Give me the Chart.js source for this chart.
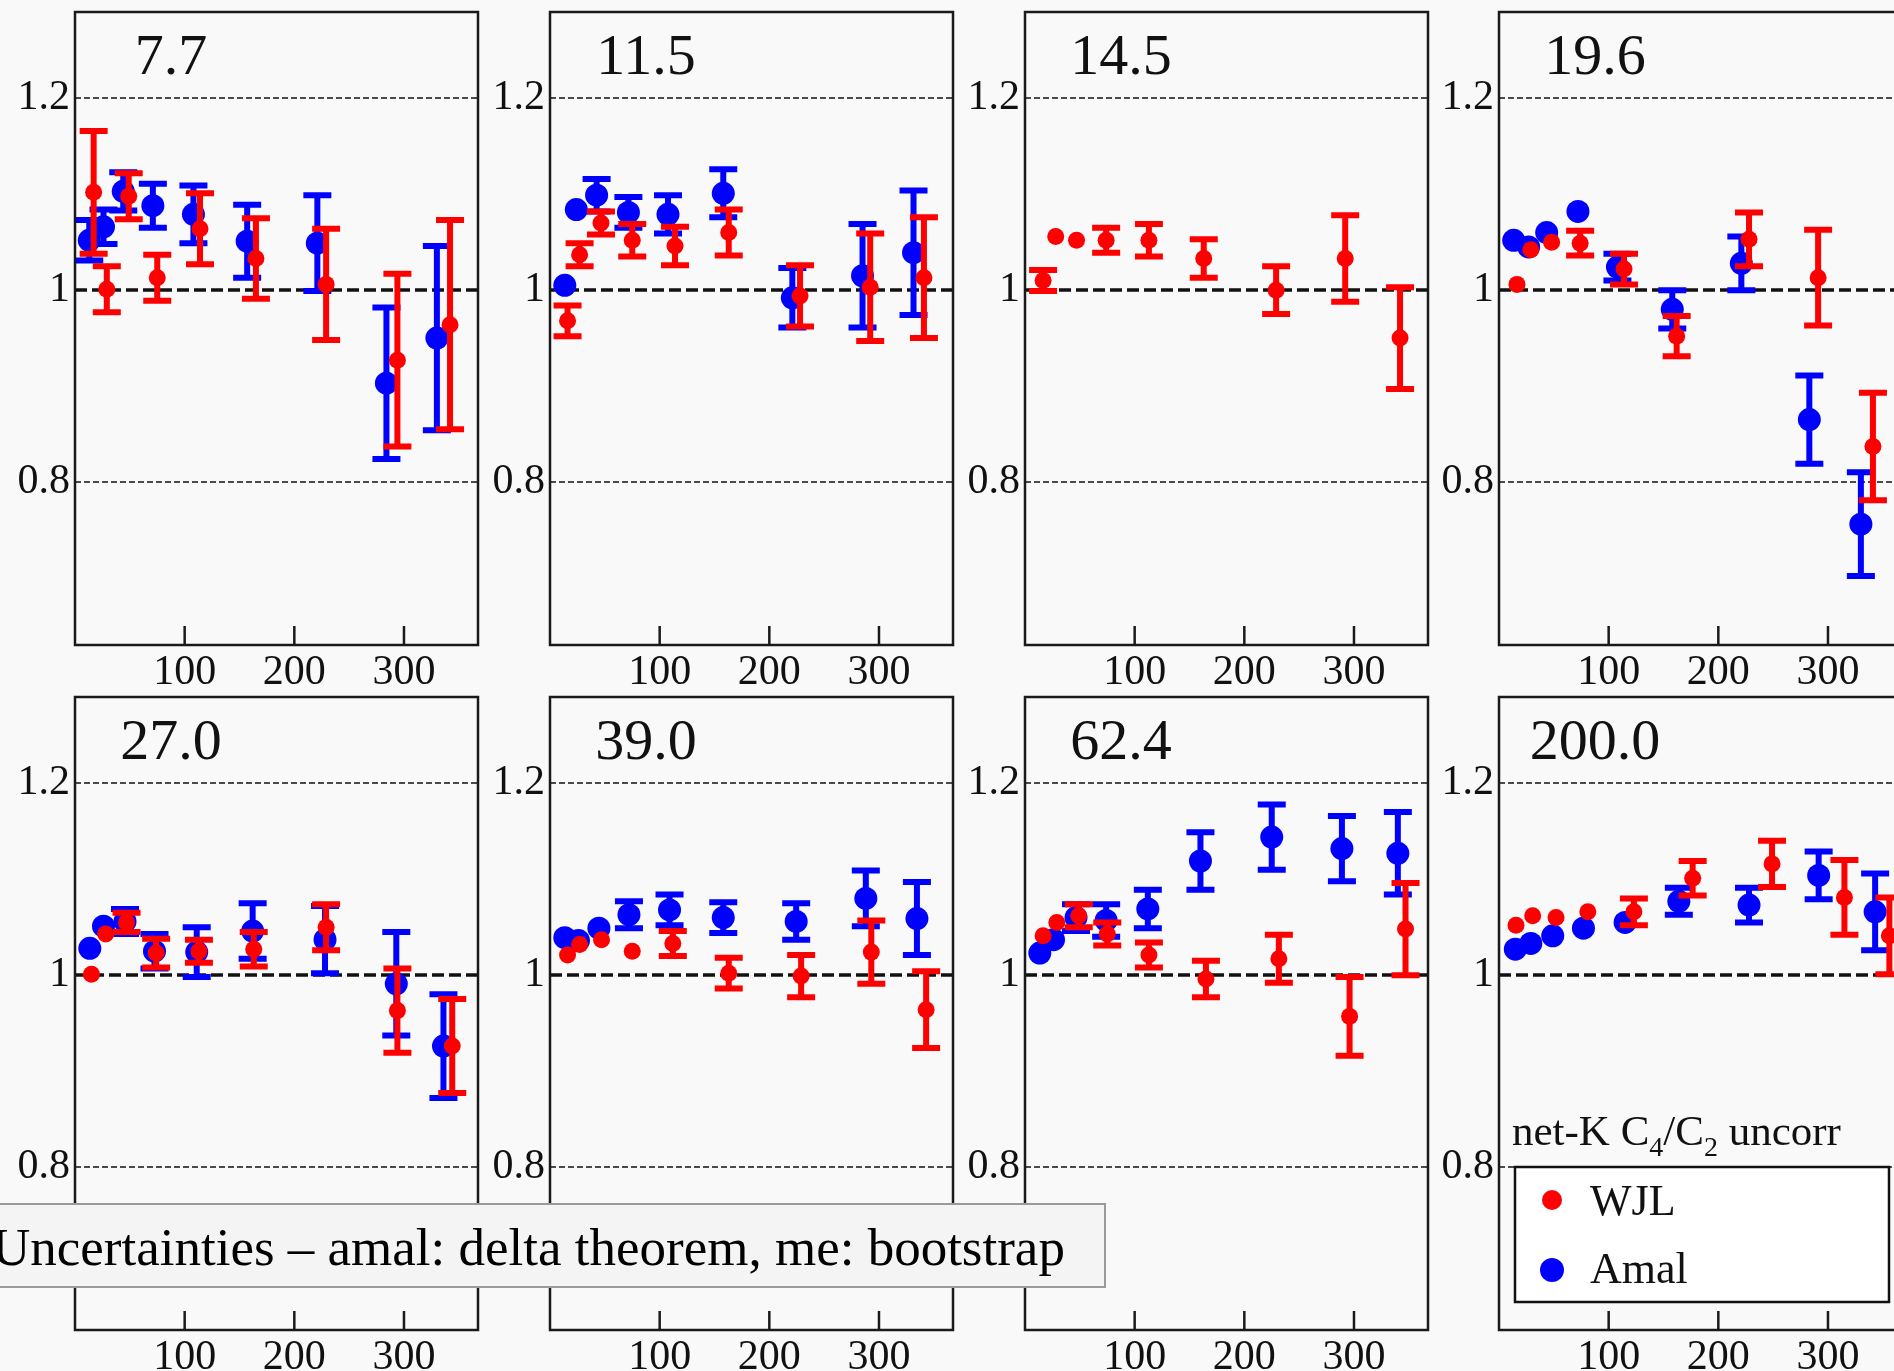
<!DOCTYPE html>
<html>
<head>
<meta charset="utf-8">
<script src="https://cdn.jsdelivr.net/npm/chart.js@4.4.0/dist/chart.umd.min.js"></script>
<style>
  html, body { margin: 0; padding: 0; background: #f9f9f9; }
  body { position: relative; width: 1894px; height: 1371px; overflow: hidden; }
  .panel { position: absolute; }
  #note {
    position: absolute; left: -2px; top: 1203px; width: 1108px; height: 85px;
    box-sizing: border-box; background: #f4f4f4; border: 2px solid #9a9a9a;
    font-family: 'Liberation Serif', 'Times New Roman', serif; font-size: 53px;
    line-height: 78px; padding-top: 3px; text-indent: -8px; white-space: nowrap;
    color: #000; z-index: 5;
  }
</style>
</head>
<body>
<div id="note">Uncertainties – amal: delta theorem, me: bootstrap</div>
<script>
  // beam energies, one panel each
  const energies = ['7.7', '11.5', '14.5', '19.6', '27.0', '39.0', '62.4', '200.0']

  // WJL: Npart, C4/C2 ratio, uncertainty
  const wjlNpart = [
    [17, 29, 49, 75, 114, 165, 229, 294, 342],
    [16, 27, 46.5, 75, 114, 163, 228, 292, 341],
    [16.5, 28, 47, 74, 113, 163, 229, 292, 342],
    [16.4, 29, 48, 74, 114, 162, 228, 291, 341],
    [15, 28, 47, 74, 113, 163, 229, 294, 344],
    [16, 27, 47, 75, 112, 163, 229, 293, 343],
    [16.5, 29, 49, 75, 113, 165, 231.5, 296, 347],
    [15.5, 30.7, 52, 81, 123, 176.6, 249, 315, 356],
  ]
  const wjlRatio = [
    [1.102, 1.001, 1.098, 1.013, 1.064, 1.033, 1.006, 0.927, 0.964],
    [0.968, 1.037, 1.07, 1.052, 1.046, 1.06, 0.994, 1.003, 1.013],
    [1.01, 1.056, 1.052, 1.052, 1.052, 1.033, 1.0, 1.033, 0.95],
    [1.006, 1.042, 1.05, 1.049, 1.022, 0.952, 1.053, 1.013, 0.837],
    [1.001, 1.043, 1.055, 1.023, 1.025, 1.027, 1.05, 0.963, 0.926],
    [1.021, 1.032, 1.037, 1.025, 1.033, 1.002, 0.999, 1.024, 0.964],
    [1.041, 1.055, 1.062, 1.043, 1.021, 0.996, 1.017, 0.957, 1.048],
    [1.052, 1.062, 1.06, 1.066, 1.066, 1.101, 1.116, 1.081, 1.041],
  ]
  const wjlErr = [
    [0.064, 0.024, 0.024, 0.024, 0.037, 0.042, 0.058, 0.09, 0.109],
    [0.016, 0.012, 0.012, 0.017, 0.02, 0.024, 0.032, 0.056, 0.063],
    [0.011, 0, 0, 0.013, 0.017, 0.02, 0.025, 0.045, 0.053],
    [0, 0, 0, 0.013, 0.016, 0.021, 0.028, 0.05, 0.056],
    [0, 0, 0.01, 0.015, 0.012, 0.018, 0.024, 0.044, 0.049],
    [0, 0, 0, 0, 0.013, 0.016, 0.022, 0.033, 0.04],
    [0, 0, 0.012, 0.012, 0.013, 0.019, 0.025, 0.041, 0.048],
    [0, 0, 0, 0, 0.014, 0.018, 0.024, 0.039, 0.04],
  ]

  // Amal: Npart, C4/C2 ratio, uncertainty (none at 14.5)
  const amalNpart = [
    [13, 26, 44, 71, 108, 157, 221, 284, 330],
    [13.5, 24, 42.5, 71.5, 107.6, 158, 221, 285, 331.5],
    [],
    [13.4, 27, 43.5, 72, 108, 158, 221, 283, 330],
    [13.5, 26, 45.6, 72.5, 111, 162, 228, 293, 336],
    [13.5, 26, 44.6, 72, 109, 158, 224.5, 288, 334.6],
    [13.5, 26, 46.5, 74, 112, 160, 225, 289, 340],
    [14.9, 29, 49, 77, 115, 164, 228, 291.5, 343],
  ]
  const amalRatio = [
    [1.052, 1.066, 1.103, 1.088, 1.079, 1.051, 1.049, 0.903, 0.95],
    [1.005, 1.084, 1.099, 1.081, 1.079, 1.101, 0.992, 1.015, 1.039],
    [],
    [1.052, 1.045, 1.06, 1.082, 1.024, 0.98, 1.028, 0.865, 0.756],
    [1.028, 1.051, 1.056, 1.025, 1.024, 1.046, 1.037, 0.991, 0.926],
    [1.039, 1.036, 1.049, 1.063, 1.068, 1.06, 1.056, 1.08, 1.059],
    [1.023, 1.037, 1.06, 1.057, 1.069, 1.119, 1.144, 1.132, 1.127],
    [1.027, 1.033, 1.041, 1.049, 1.055, 1.077, 1.073, 1.104, 1.066],
  ]
  const amalErr = [
    [0.021, 0.018, 0.02, 0.023, 0.03, 0.038, 0.05, 0.079, 0.096],
    [0, 0, 0.017, 0.016, 0.02, 0.025, 0.031, 0.054, 0.065],
    [],
    [0, 0, 0, 0, 0.014, 0.02, 0.028, 0.046, 0.054],
    [0, 0, 0.013, 0.018, 0.026, 0.029, 0.035, 0.054, 0.054],
    [0, 0, 0, 0.014, 0.016, 0.016, 0.019, 0.029, 0.038],
    [0, 0, 0.014, 0.017, 0.02, 0.03, 0.034, 0.034, 0.043],
    [0, 0, 0, 0, 0, 0.014, 0.018, 0.025, 0.04],
  ]

  const nTicks = [100, 200, 300]
  const ratioTicks = [0.8, 1, 1.2]

  const colLeft = [75, 550, 1025, 1499]
  const rowTop = [12, 697]
  const boxW = 403
  const boxH = 633
  const yAxisW = 73
  const xAxisH = 55
  const serif = "'Liberation Serif', 'Times New Roman', serif"
  const RED = '#ff0000'
  const BLUE = '#0000ff'

  // vertical error bars with caps, drawn just before each dataset's points
  const errorBars = {
    id: 'errorBars',
    beforeDatasetDraw(chart, args) {
      const ds = chart.data.datasets[args.index]
      const xs = chart.scales.x
      const ys = chart.scales.y
      const ctx = chart.ctx
      ctx.save()
      ctx.strokeStyle = ds.backgroundColor
      ctx.lineWidth = 6
      ds.data.forEach((p, i) => {
        const e = ds.errors[i]
        if (!e) return
        const px = xs.getPixelForValue(p.x)
        const top = ys.getPixelForValue(p.y + e)
        const bot = ys.getPixelForValue(p.y - e)
        ctx.beginPath()
        ctx.moveTo(px, top)
        ctx.lineTo(px, bot)
        ctx.moveTo(px - 14, top)
        ctx.lineTo(px + 14, top)
        ctx.moveTo(px - 14, bot)
        ctx.lineTo(px + 14, bot)
        ctx.stroke()
      })
      ctx.restore()
    },
  }

  // reference lines, frame, inner ticks and the energy label
  const panelDecor = {
    id: 'panelDecor',
    beforeDatasetsDraw(chart) {
      const { ctx, chartArea: a } = chart
      const ys = chart.scales.y
      ctx.save()
      ctx.strokeStyle = '#111'
      ratioTicks.forEach((v) => {
        const py = Math.round(ys.getPixelForValue(v))
        ctx.beginPath()
        if (v === 1) {
          ctx.setLineDash([12, 5])
          ctx.lineWidth = 3.5
        } else {
          ctx.setLineDash([6, 3])
          ctx.lineWidth = 1.6
        }
        ctx.moveTo(a.left, py)
        ctx.lineTo(a.right, py)
        ctx.stroke()
      })
      ctx.restore()
    },
    afterDatasetsDraw(chart, args, opts) {
      const { ctx, chartArea: a } = chart
      const xs = chart.scales.x
      ctx.save()
      ctx.strokeStyle = '#1a1a1a'
      ctx.lineWidth = 2.5
      ctx.strokeRect(a.left, a.top, a.right - a.left, a.bottom - a.top)
      nTicks.forEach((v) => {
        const px = xs.getPixelForValue(v)
        ctx.beginPath()
        ctx.moveTo(px, a.bottom)
        ctx.lineTo(px, a.bottom - 19)
        ctx.stroke()
      })
      ctx.fillStyle = '#111'
      ctx.font = '58px ' + serif
      ctx.textAlign = 'center'
      ctx.textBaseline = 'alphabetic'
      ctx.fillText(opts.title, a.left + 96, a.top + 62)

      if (opts.legend) {
        const L = a.left
        const T = a.top
        ctx.textAlign = 'left'
        let tx = L + 13
        const base = T + 448
        const parts = [
          ['net-K C', 0],
          ['4', 1],
          ['/C', 0],
          ['2', 1],
          [' uncorr', 0],
        ]
        parts.forEach(([s, sub]) => {
          ctx.font = (sub ? '28px ' : '43px ') + serif
          ctx.fillText(s, tx, base + (sub ? 11 : 0))
          tx += ctx.measureText(s).width
        })
        ctx.fillStyle = '#ffffff'
        ctx.fillRect(L + 16, T + 470, 374, 135)
        ctx.strokeStyle = '#111'
        ctx.lineWidth = 2.5
        ctx.strokeRect(L + 16, T + 470, 374, 135)
        ctx.fillStyle = RED
        ctx.beginPath()
        ctx.arc(L + 53, T + 503, 10, 0, Math.PI * 2)
        ctx.fill()
        ctx.fillStyle = BLUE
        ctx.beginPath()
        ctx.arc(L + 53, T + 573, 12, 0, Math.PI * 2)
        ctx.fill()
        ctx.fillStyle = '#111'
        ctx.font = '44px ' + serif
        ctx.fillText('WJL', L + 91, T + 518)
        ctx.fillText('Amal', L + 91, T + 586)
      }
      ctx.restore()
    },
  }

  function toPoints(xs, ys) {
    return xs.map((x, i) => ({ x: x, y: ys[i] }))
  }

  function createPanel(i) {
    const col = i % 4
    const row = Math.floor(i / 4)
    const canvas = document.createElement('canvas')
    canvas.className = 'panel'
    canvas.width = yAxisW + boxW + 4
    canvas.height = boxH + 2 + xAxisH
    canvas.style.left = colLeft[col] - yAxisW + 'px'
    canvas.style.top = rowTop[row] - 2 + 'px'
    canvas.style.width = canvas.width + 'px'
    canvas.style.height = canvas.height + 'px'
    document.body.appendChild(canvas)

    const datasets = [
      {
        label: 'WJL',
        data: toPoints(wjlNpart[i], wjlRatio[i]),
        errors: wjlErr[i],
        backgroundColor: RED,
        pointRadius: 8.5,
        pointBorderWidth: 0,
      },
      {
        label: 'Amal',
        data: toPoints(amalNpart[i], amalRatio[i]),
        errors: amalErr[i],
        backgroundColor: BLUE,
        pointRadius: 11.5,
        pointBorderWidth: 0,
      },
    ]

    return new Chart(canvas, {
      type: 'scatter',
      data: { datasets: datasets },
      options: {
        responsive: false,
        devicePixelRatio: 1,
        animation: false,
        events: [],
        layout: { autoPadding: false, padding: { top: 2, right: 4, left: 0, bottom: 0 } },
        plugins: {
          legend: { display: false },
          tooltip: { enabled: false },
          panelDecor: { title: energies[i], legend: i === 7 },
        },
        scales: {
          x: {
            type: 'linear',
            min: 0,
            max: 367.5,
            afterBuildTicks: (s) => {
              s.ticks = nTicks.map((v) => ({ value: v }))
            },
            afterFit: (s) => {
              s.height = xAxisH
              s.paddingLeft = 0
              s.paddingRight = 0
            },
            ticks: {
              font: { family: serif, size: 42, lineHeight: 1 },
              color: '#111',
              padding: 7,
              maxRotation: 0,
              autoSkip: false,
            },
            grid: { display: false, drawTicks: false },
            border: { display: false },
          },
          y: {
            type: 'linear',
            min: 0.63,
            max: 1.29,
            afterBuildTicks: (s) => {
              s.ticks = ratioTicks.map((v) => ({ value: v }))
            },
            afterFit: (s) => {
              s.width = yAxisW
              s.paddingTop = 0
              s.paddingBottom = 0
            },
            ticks: {
              font: { family: serif, size: 42 },
              color: '#111',
              padding: 5,
              callback: (v) => String(Math.round(v * 10) / 10),
            },
            grid: { display: false, drawTicks: false },
            border: { display: false },
          },
        },
      },
      plugins: [errorBars, panelDecor],
    })
  }

  energies.forEach((e, i) => createPanel(i))
</script>
</body>
</html>
